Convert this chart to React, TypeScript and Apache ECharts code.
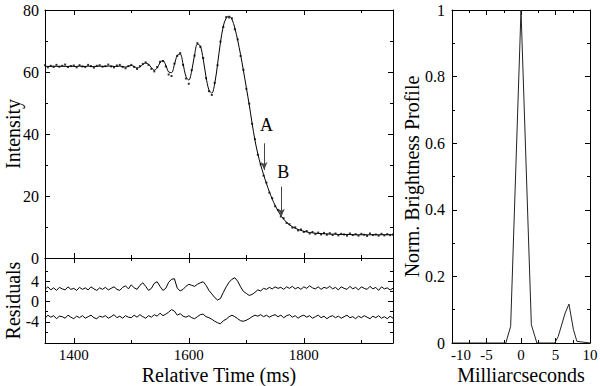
import React, { useEffect, useRef } from "react";
import * as echarts from "echarts";

// ---- Data ----
const TIME = [
  1350, 1355, 1360, 1365, 1370, 1375, 1380, 1385, 1390, 1395,
  1400, 1405, 1410, 1415, 1420, 1425, 1430, 1435, 1440, 1445,
  1450, 1455, 1460, 1465, 1470, 1475, 1480, 1485, 1490, 1495,
  1500, 1505, 1510, 1515, 1520, 1525, 1530, 1535, 1540, 1545,
  1550, 1555, 1560, 1565, 1570, 1575, 1580, 1585, 1590, 1595,
  1600, 1605, 1610, 1615, 1620, 1625, 1630, 1635, 1640, 1645,
  1650, 1655, 1660, 1665, 1670, 1675, 1680, 1685, 1690, 1695,
  1700, 1705, 1710, 1715, 1720, 1725, 1730, 1735, 1740, 1745,
  1750, 1755, 1760, 1765, 1770, 1775, 1780, 1785, 1790, 1795,
  1800, 1805, 1810, 1815, 1820, 1825, 1830, 1835, 1840, 1845,
  1850, 1855, 1860, 1865, 1870, 1875, 1880, 1885, 1890, 1895,
  1900, 1905, 1910, 1915, 1920, 1925, 1930, 1935, 1940, 1945,
  1950, 1955,
];

const FIT = [
  61.9, 61.8, 61.8, 61.9, 61.8, 61.8, 61.9, 61.8, 61.8, 61.9,
  61.8, 61.8, 61.9, 61.8, 61.8, 61.9, 61.8, 61.7, 61.8, 61.9,
  61.8, 61.8, 61.9, 61.9, 61.8, 61.8, 61.9, 61.8, 61.6, 61.8,
  62.1, 61.8, 61.3, 61.6, 62.4, 62.9, 62.5, 61.4, 60.6, 61.3,
  63.0, 63.7, 62.2, 60.0, 59.8, 62.4, 65.4, 65.8, 62.6, 58.6,
  57.4, 60.3, 65.5, 69.0, 68.4, 64.2, 58.4, 54.2, 53.2, 56.2,
  62.5, 69.5, 74.8, 77.4, 78.0, 77.0, 74.2, 70.2, 65.6, 60.4,
  55.0, 49.5, 43.5, 38.0, 33.6, 30.0, 26.9, 24.0, 21.4, 19.0,
  17.0, 15.2, 13.7, 12.5, 11.5, 10.7, 10.1, 9.6, 9.2, 8.9,
  8.6, 8.4, 8.2, 8.1, 8.0, 7.9, 7.9, 7.8, 7.8, 7.7,
  7.7, 7.7, 7.6, 7.6, 7.6, 7.6, 7.6, 7.5, 7.5, 7.5,
  7.5, 7.5, 7.5, 7.5, 7.5, 7.5, 7.5, 7.5, 7.5, 7.5,
  7.5, 7.5,
];

const OBSERVED = [
  62.2, 61.5, 62.0, 61.6, 62.3, 61.7, 62.0, 62.4, 61.6, 61.9,
  62.1, 61.5, 62.2, 61.8, 61.6, 62.3, 61.9, 61.4, 62.0, 62.2,
  61.7, 61.9, 62.4, 61.8, 61.5, 62.1, 62.3, 61.6, 61.2, 61.9,
  62.3, 61.6, 61.0, 61.9, 62.6, 63.1, 62.3, 61.0, 60.2, 61.6,
  63.3, 63.5, 61.8, 59.2, 58.7, 62.7, 65.2, 66.1, 62.3, 57.9,
  56.2, 60.6, 65.3, 69.3, 68.1, 64.5, 58.0, 53.8, 52.6, 56.5,
  62.2, 69.8, 74.5, 77.7, 77.6, 77.3, 73.8, 70.5, 65.2, 60.7,
  54.6, 49.8, 43.3, 38.3, 33.3, 30.2, 26.6, 24.3, 21.1, 19.3,
  16.7, 15.5, 13.4, 12.8, 11.3, 10.9, 9.8, 9.9, 8.9, 9.2,
  8.4, 8.7, 7.9, 8.4, 7.7, 8.2, 7.6, 8.1, 7.5, 8.0,
  7.4, 7.9, 7.3, 7.8, 7.6, 7.2, 7.9, 7.4, 7.7, 7.2,
  7.8, 7.5, 7.1, 7.9, 7.4, 7.6, 7.2, 7.8, 7.3, 7.7,
  7.4, 7.6,
];

const RESID_UPPER = [
  2.4, 2.9, 2.3, 2.7, 2.2, 2.8, 2.5, 2.3, 2.9, 2.4,
  2.6, 2.2, 2.8, 2.4, 2.7, 2.3, 2.9, 2.5, 2.2, 2.7,
  2.4, 2.8, 2.3, 2.6, 2.9, 2.4, 2.2, 2.8, 3.1, 2.5,
  3.3, 2.7, 2.4, 3.2, 3.7, 3.0, 2.2, 2.6, 3.6, 3.9,
  3.0, 2.2, 2.6, 3.8, 4.4, 4.5, 2.6, 2.1, 2.4, 3.0,
  3.4, 3.2, 3.0, 3.4, 3.7, 3.9, 3.2, 2.2, 1.5, 0.8,
  0.3, 0.6, 1.8, 2.9, 3.8, 4.4, 4.7, 4.0, 2.9, 2.0,
  1.6, 1.2, 1.4, 1.8, 2.3, 2.1, 2.6, 2.4, 2.8, 2.5,
  2.9, 2.6, 2.8, 2.4, 2.9, 2.6, 3.0, 2.5, 2.8, 2.4,
  2.9, 2.6, 3.1, 2.7, 2.5, 2.9, 2.4, 2.8, 2.6, 3.0,
  2.5, 2.8, 2.3, 2.9, 2.6, 2.4, 3.0, 2.5, 2.8, 2.3,
  2.9, 2.6, 2.4, 3.0, 2.5, 2.8, 2.2, 2.9, 2.5, 2.7,
  2.3, 2.6,
];

const RESID_LOWER = [
  -3.3, -2.7, -3.1, -2.8, -3.4, -2.9, -3.0, -3.3, -2.7, -3.1,
  -3.4, -2.9, -3.2, -2.8, -3.3, -3.0, -2.7, -3.2, -3.4, -2.9,
  -3.1, -2.8, -3.3, -3.0, -2.6, -3.2, -2.9, -3.3, -2.8, -3.1,
  -3.2, -2.7, -3.1, -2.6, -3.0, -3.3, -2.8, -3.1, -2.6, -2.9,
  -2.3, -2.8, -2.5, -2.1, -1.6, -1.9, -2.7, -2.4, -2.9, -3.1,
  -2.8, -3.2, -3.4, -3.0, -2.6, -2.5, -3.0, -3.2, -3.5, -3.9,
  -4.2, -4.4, -3.8, -3.5, -3.0, -2.7, -3.0, -3.4, -3.8, -3.9,
  -3.7, -3.4, -3.0, -2.7, -2.9, -2.6, -3.0, -2.7, -3.1, -2.8,
  -2.6, -3.0, -2.7, -3.2, -2.8, -2.6, -3.1, -2.8, -3.3, -2.9,
  -2.7, -3.1, -2.8, -3.3, -3.0, -2.7, -3.2, -2.9, -3.4, -3.0,
  -2.8, -3.2, -2.9, -3.3, -3.0, -2.7, -3.2, -3.0, -3.4, -2.9,
  -3.2, -2.8, -3.1, -3.4, -2.9, -3.2, -2.8, -3.3, -3.0, -3.4,
  -2.9, -3.3,
];

const PROFILE_X = [-10, -2.2, -1.5, 0, 1.5, 2.3, 4.9, 5.4, 6.4, 6.95, 7.6, 8.1, 10];
const PROFILE_Y = [0, 0, 0.05, 1, 0.055, 0, 0, 0.02, 0.09, 0.117, 0.04, 0.005, 0];

const TIME_MAJOR = [1400, 1600, 1800];
const TIME_MINOR = [1500, 1700, 1900];
const RES_MAJOR = [-4, 0, 4];
const RES_MINOR = [-6, -2, 2, 6];

const ARROW_A = { t: 1731, from: 37, to: 28.4, labelT: 1735, labelY: 42.9, name: "A" };
const ARROW_B = { t: 1761, from: 23, to: 13.3, labelT: 1764, labelY: 27.8, name: "B" };

const FONT = "'Liberation Serif', 'Times New Roman', serif";
const BLACK = "#000";
const AXL = { color: BLACK, width: 1 };
const plain = (v: number) => String(v);

function zip(xs: number[], ys: number[]) {
  return xs.map((x, i) => [x, ys[i]]);
}

function tickAxis(base: any, values: number[], len: number, showLine: boolean, labels?: any) {
  return {
    type: "value",
    ...base,
    axisLine: { show: showLine, onZero: false, lineStyle: AXL },
    axisTick: { show: true, inside: true, length: len, customValues: values, lineStyle: AXL },
    axisLabel: labels
      ? { show: true, customValues: labels.values, formatter: plain, fontSize: labels.fontSize, margin: labels.margin, color: BLACK, fontFamily: FONT }
      : { show: false },
    splitLine: { show: false },
  };
}

export default function App() {
  const ref = useRef<HTMLDivElement>(null);
  useEffect(() => {
    if (!ref.current) return;
    const chart = echarts.init(ref.current, null, { renderer: "svg" });
    const tBase = { min: 1350, max: 1955 };
    const nameStyle = { fontSize: 20, color: BLACK, fontFamily: FONT };
    const named = (name: string, gap: number) => ({
      name, nameLocation: "middle", nameGap: gap, nameMoveOverlap: false, nameTextStyle: nameStyle,
    });

    const xAxis: any[] = [
      tickAxis({ gridIndex: 0, position: "bottom", ...tBase }, TIME_MAJOR, 5, true),
      tickAxis({ gridIndex: 0, position: "bottom", ...tBase }, TIME_MINOR, 3, false),
      tickAxis({ gridIndex: 0, position: "top", ...tBase }, TIME_MAJOR, 5, true),
      tickAxis({ gridIndex: 0, position: "top", ...tBase }, TIME_MINOR, 3, false),
      {
        ...tickAxis({ gridIndex: 1, position: "bottom", ...tBase }, TIME_MAJOR, 5, true, { values: TIME_MAJOR, fontSize: 15, margin: 4 }),
        ...named("Relative Time (ms)", 22),
      },
      tickAxis({ gridIndex: 1, position: "bottom", ...tBase }, TIME_MINOR, 3, false),
      tickAxis({ gridIndex: 1, position: "top", ...tBase }, TIME_MAJOR, 5, true),
      tickAxis({ gridIndex: 1, position: "top", ...tBase }, TIME_MINOR, 3, false),
      {
        type: "value", gridIndex: 2, position: "bottom", min: -10, max: 10, interval: 5,
        axisLine: { show: true, onZero: false, lineStyle: AXL },
        axisTick: { show: true, inside: true, length: 5, lineStyle: AXL },
        minorTick: { show: true, splitNumber: 2, length: 3, lineStyle: AXL },
        axisLabel: {
          fontSize: 15, margin: 4, color: BLACK, fontFamily: FONT,
          formatter: (v: number) => (v === -10 ? "{s|-10}" : String(v)),
          rich: { s: { fontSize: 15, color: BLACK, fontFamily: FONT, padding: [0, 0, 0, 18] } },
        },
        splitLine: { show: false }, minorSplitLine: { show: false },
        ...named("Milliarcseconds", 22),
      },
      {
        type: "value", gridIndex: 2, position: "top", min: -10, max: 10, interval: 5,
        axisLine: { show: true, onZero: false, lineStyle: AXL },
        axisTick: { show: true, inside: true, length: 5, lineStyle: AXL },
        minorTick: { show: true, splitNumber: 2, length: 3, lineStyle: AXL },
        axisLabel: { show: false },
        splitLine: { show: false }, minorSplitLine: { show: false },
      },
    ];

    const yAxis: any[] = [
      {
        type: "value", gridIndex: 0, position: "left", min: 0, max: 80, interval: 20,
        axisLine: { show: true, onZero: false, lineStyle: AXL },
        axisTick: { show: true, inside: true, length: 5, lineStyle: AXL },
        minorTick: { show: true, splitNumber: 2, length: 3, lineStyle: AXL },
        axisLabel: { fontSize: 16, margin: 6, color: BLACK, fontFamily: FONT, formatter: plain },
        splitLine: { show: false }, minorSplitLine: { show: false },
        ...named("Intensity", 22),
      },
      {
        type: "value", gridIndex: 0, position: "right", min: 0, max: 80, interval: 20,
        axisLine: { show: true, onZero: false, lineStyle: AXL },
        axisTick: { show: true, inside: true, length: 5, lineStyle: AXL },
        minorTick: { show: true, splitNumber: 2, length: 3, lineStyle: AXL },
        axisLabel: { show: false },
        splitLine: { show: false }, minorSplitLine: { show: false },
      },
      {
        ...tickAxis({ gridIndex: 1, position: "left", min: -8.2, max: 8.6 }, RES_MAJOR, 5, true, { values: RES_MAJOR, fontSize: 16, margin: 6 }),
        ...named("Residuals", 22),
      },
      tickAxis({ gridIndex: 1, position: "left", min: -8.2, max: 8.6 }, RES_MINOR, 3, false),
      tickAxis({ gridIndex: 1, position: "right", min: -8.2, max: 8.6 }, RES_MAJOR, 5, true),
      tickAxis({ gridIndex: 1, position: "right", min: -8.2, max: 8.6 }, RES_MINOR, 3, false),
      {
        type: "value", gridIndex: 2, position: "left", min: 0, max: 1, interval: 0.2,
        axisLine: { show: true, onZero: false, lineStyle: AXL },
        axisTick: { show: true, inside: true, length: 5, lineStyle: AXL },
        minorTick: { show: true, splitNumber: 2, length: 3, lineStyle: AXL },
        axisLabel: { fontSize: 16, margin: 7, color: BLACK, fontFamily: FONT, formatter: plain },
        splitLine: { show: false }, minorSplitLine: { show: false },
        ...named("Norm. Brightness Profile", 30),
      },
      {
        type: "value", gridIndex: 2, position: "right", min: 0, max: 1, interval: 0.2,
        axisLine: { show: true, onZero: false, lineStyle: AXL },
        axisTick: { show: true, inside: true, length: 5, lineStyle: AXL },
        minorTick: { show: true, splitNumber: 2, length: 3, lineStyle: AXL },
        axisLabel: { show: false },
        splitLine: { show: false }, minorSplitLine: { show: false },
      },
    ];

    const arrows = [ARROW_A, ARROW_B];

    chart.setOption({
      animation: false,
      textStyle: { fontFamily: FONT, color: BLACK },
      grid: [
        { left: 45, top: 10, width: 348, height: 248, containLabel: false, outerBoundsMode: "none" },
        { left: 45, top: 258, width: 348, height: 85, containLabel: false, outerBoundsMode: "none" },
        { left: 452, top: 10, width: 138, height: 333, containLabel: false, outerBoundsMode: "none" },
      ],
      xAxis,
      yAxis,
      series: [
        {
          type: "line", xAxisIndex: 0, yAxisIndex: 0, data: zip(TIME, FIT),
          symbol: "none", smooth: 0.35, lineStyle: { color: BLACK, width: 1 }, z: 2,
          markLine: {
            silent: true, symbol: ["none", "arrow"], symbolSize: [5, 8],
            lineStyle: { color: "#444", width: 1, type: "solid" },
            label: { show: false },
            data: arrows.map((a) => [{ coord: [a.t, a.from] }, { coord: [a.t, a.to] }]),
          },
          markPoint: {
            silent: true, symbol: "rect", symbolSize: 1,
            itemStyle: { color: "rgba(0,0,0,0)" },
            label: { show: true, position: "inside", formatter: (p: any) => p.name, fontSize: 18, color: BLACK, fontFamily: FONT },
            data: arrows.map((a) => ({ name: a.name, coord: [a.labelT, a.labelY] })),
          },
        },
        {
          type: "scatter", xAxisIndex: 0, yAxisIndex: 0, data: zip(TIME, OBSERVED),
          symbol: "rect", symbolSize: 2, itemStyle: { color: BLACK }, z: 3,
        },
        {
          type: "line", xAxisIndex: 4, yAxisIndex: 2, data: zip(TIME, RESID_UPPER),
          symbol: "none", lineStyle: { color: BLACK, width: 1 },
        },
        {
          type: "line", xAxisIndex: 4, yAxisIndex: 2, data: zip(TIME, RESID_LOWER),
          symbol: "none", lineStyle: { color: BLACK, width: 1 },
        },
        {
          type: "line", xAxisIndex: 8, yAxisIndex: 6, data: zip(PROFILE_X, PROFILE_Y),
          symbol: "none", lineStyle: { color: "#222", width: 1 },
        },
      ],
    });
    return () => chart.dispose();
  }, []);

  return (
    <div
      ref={ref}
      style={{ position: "absolute", left: 0, top: 0, width: 600, height: 386, background: "#fff" }}
    />
  );
}
